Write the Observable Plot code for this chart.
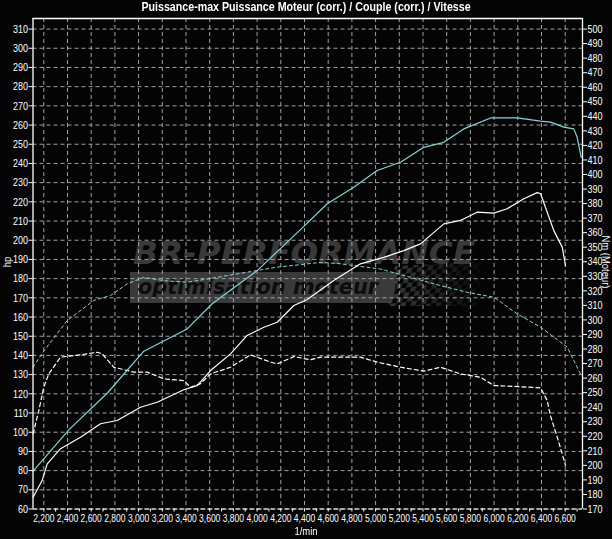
<!DOCTYPE html>
<html>
<head>
<meta charset="utf-8">
<script src="https://cdn.jsdelivr.net/npm/d3@7"></script>
<script src="https://cdn.jsdelivr.net/npm/@observablehq/plot@0.6"></script>
<style>
  html, body { margin: 0; padding: 0; background: #000; }
  #wrap { position: relative; width: 612px; height: 539px; background: #040404; overflow: hidden;
          font-family: "Liberation Sans", Arial, sans-serif; color: #fff; }
  #wrap > svg, #wrap > div { position: absolute; left: 0; top: 0; }
  #title { width: 612px; text-align: center; top: 0; font-size: 13px; font-weight: bold; line-height: 14px; transform: scaleX(0.82); transform-origin: 306px 0; }
  .lab { font-size: 11.5px; white-space: nowrap; width: 100px; text-align: center; line-height: 12px; }
</style>
</head>
<body>
<div id="wrap">
  <svg id="wm" width="612" height="539">
    <defs>
      <pattern id="chk" width="10" height="10" patternUnits="userSpaceOnUse" patternTransform="skewX(-25) rotate(-8)">
        <rect x="0" y="0" width="5" height="5" fill="#3b3b3b"></rect>
        <rect x="5" y="5" width="5" height="5" fill="#3b3b3b"></rect>
      </pattern>
      <linearGradient id="fade" x1="0" x2="1" y1="0" y2="0">
        <stop offset="0" stop-color="#fff" stop-opacity="1"></stop>
        <stop offset="1" stop-color="#fff" stop-opacity="0.1"></stop>
      </linearGradient>
      <mask id="fm"><rect x="388" y="262" width="95" height="46" fill="url(#fade)"></rect></mask>
    </defs>
    <text x="133" y="264" textLength="342" lengthAdjust="spacingAndGlyphs"
          font-family="DejaVu Sans" font-weight="bold" font-style="italic" font-size="32" fill="#393939">BR-PERFORMANCE</text>
    <path d="M130,272 L398,272 L392,303 L130,303 Z" fill="#3a3a3a"></path>
    <path d="M395,266 L482,262 L478,306 L388,306 Z" fill="url(#chk)" mask="url(#fm)"></path>
    <text x="138" y="294" textLength="240" lengthAdjust="spacingAndGlyphs"
          font-family="DejaVu Sans" font-weight="bold" font-style="italic" font-size="22" fill="#0c0c0c">optimisation moteur</text>
  </svg>
  <div id="chart"></div>
  <div id="title">Puissance-max Puissance Moteur (corr.) / Couple (corr.) / Vitesse</div>
  <div class="lab" style="left:-43px; top:256px; transform: rotate(-90deg) scaleX(0.82);">hp</div>
  <div class="lab" style="left:556px; top:256px; transform: rotate(90deg) scaleX(0.82);">Nm (Moteur)</div>
  <div class="lab" style="left:256px; top:525px; transform: scaleX(0.82);">1/min</div>
</div>
<script>
// ---- axes / ticks
const rpmTicks = d3.range(2200, 6601, 200);
const rpmMinor = d3.range(2200, 6701, 100);
const hpTicks = d3.range(60, 311, 10);
const nmTicks = d3.range(170, 501, 10);
const xDomain = [2109, 6746];
const yDomain = [60, 315.5];

// ---- cyan solid: Puissance Moteur (hp)
const powerRpm = [2110, 2411, 2735, 3044, 3410, 3621, 4001, 4366, 4592, 4816, 5013, 5210, 5407, 5576, 5744, 5970, 6195, 6392, 6476, 6588, 6673, 6701, 6735];
const powerHp  = [79.7, 101.2, 120.3, 142.2, 153.8, 166.9, 184.2, 205.5, 219, 227.6, 236.3, 240.6, 248.4, 251, 258, 263.7, 263.7, 262, 261.5, 258.9, 258, 253.6, 243.2];

// ---- white solid: Puissance-max (hp)
const maxRpm = [2110, 2186, 2229, 2341, 2510, 2679, 2819, 3016, 3157, 3381, 3494, 3607, 3776, 3916, 4057, 4170, 4310, 4420, 4647, 4872, 5069, 5238, 5379, 5576, 5716, 5857, 5998, 6110, 6251, 6364, 6392, 6504, 6575, 6603];
const maxHp  = [66.1, 74.8, 83.5, 91.4, 97.4, 104.4, 106.1, 113, 115.6, 122.1, 124.3, 132.1, 140.8, 150.4, 154.7, 157.3, 166, 169, 179, 187.7, 191.1, 194.6, 198.1, 208.5, 210.3, 214.6, 214.1, 216.4, 221.6, 224.8, 224.2, 205, 196.4, 186.8];

// ---- cyan dashed: Couple (Nm)
const torqueRpm = [2110, 2200, 2398, 2622, 2763, 2904, 3044, 3213, 3410, 3663, 3916, 4170, 4366, 4535, 4704, 5041, 5294, 5548, 5773, 5998, 6195, 6392, 6617, 6729];
const torqueNm  = [267.6, 278.6, 299.6, 313.4, 316.8, 324.8, 329.3, 327, 325.9, 329.3, 332.8, 336.3, 338, 339.6, 338.6, 335, 329.3, 323.6, 319, 315.6, 304.2, 295, 281.3, 262.9];

// ---- white dashed: Couple-max (Nm)
const tmaxRpm = [2110, 2158, 2200, 2242, 2341, 2510, 2651, 2693, 2791, 2960, 3073, 3213, 3381, 3438, 3522, 3607, 3776, 3945, 4114, 4170, 4310, 4451, 4535, 4872, 5013, 5210, 5407, 5548, 5716, 5885, 5998, 6195, 6392, 6448, 6476, 6543, 6603];
const tmaxNm  = [221.7, 237.7, 253.7, 262.9, 274.4, 276, 277.8, 276.7, 267.5, 264.1, 264.1, 259.5, 258.3, 253.7, 256.1, 262.9, 267.5, 276, 271, 269.8, 274.8, 272.6, 274.4, 274.4, 271, 267.5, 264.8, 267.5, 262.9, 260.6, 254.9, 254.2, 253.3, 244.6, 234, 216.7, 200];

const nmToHp = nm => 60 + (nm - 170) * 250 / 330;
const hpToNm = hp => Math.round(170 + (hp - 60) * 330 / 250);

const zip = (xs, ys) => xs.map((x, i) => ({x, y: ys[i]}));
const power = zip(powerRpm, powerHp);
const pmax = zip(maxRpm, maxHp);
const torque = zip(torqueRpm, torqueNm);
const tmax = zip(tmaxRpm, tmaxNm);

const cyan = "#88d4d8";
const grid = {stroke: "#a2a2a2", strokeOpacity: 1, strokeDasharray: "4,3", strokeWidth: 1};

const chart = Plot.plot({
  width: 612, height: 539,
  marginLeft: 32.5, marginRight: 30, marginTop: 18, marginBottom: 30.5,
  style: {background: "transparent", color: "#fff", fontFamily: '"Liberation Sans", Arial, sans-serif', fontSize: "11.5px"},
  x: {domain: xDomain},
  y: {domain: yDomain},
  marks: [
    Plot.gridX(rpmTicks, grid),
    Plot.gridY(hpTicks, grid),
    Plot.line(tmax, {x: "x", y: d => nmToHp(d.y), stroke: "#fff", strokeWidth: 1.2, strokeDasharray: "4,3"}),
    Plot.line(torque, {x: "x", y: d => nmToHp(d.y), stroke: cyan, strokeWidth: 1, strokeDasharray: "3,3"}),
    Plot.line(pmax, {x: "x", y: "y", stroke: "#fff", strokeWidth: 1.2}),
    Plot.line(power, {x: "x", y: "y", stroke: cyan, strokeWidth: 1.2}),
    Plot.ruleX(xDomain, {stroke: "#fff", strokeWidth: 1.3}),
    Plot.ruleY([yDomain[1]], {stroke: "#fff", strokeWidth: 1.3}),
    Plot.ruleY([yDomain[0]], {stroke: "#fff", strokeWidth: 1.2, strokeDasharray: "5,2"}),
    Plot.axisY(hpTicks, {anchor: "left", tickSize: 4, tickPadding: 1, label: null, stroke: "#fff", fill: "#fff"}),
    Plot.axisY(nmTicks.map(nmToHp), {anchor: "right", tickSize: 4, tickPadding: 1, label: null, tickFormat: hpToNm, stroke: "#fff", fill: "#fff"}),
    Plot.axisX(rpmMinor, {anchor: "bottom", tickSize: 3, text: null, label: null, stroke: "#fff"}),
    Plot.axisX(rpmTicks, {anchor: "bottom", tickSize: 0, tickPadding: 5, tickFormat: d3.format(","), label: null, fill: "#fff"})
  ]
});
document.getElementById("chart").appendChild(chart);
// narrow the tick labels horizontally (Arial Narrow look)
chart.querySelectorAll("text").forEach(t => {
  const len = t.getComputedTextLength();
  if (len > 0) {
    const k = t.textContent.includes(",") ? 0.74 : 0.78;
    t.setAttribute("textLength", (len * k).toFixed(2));
    t.setAttribute("lengthAdjust", "spacingAndGlyphs");
  }
});
</script>
</body>
</html>
